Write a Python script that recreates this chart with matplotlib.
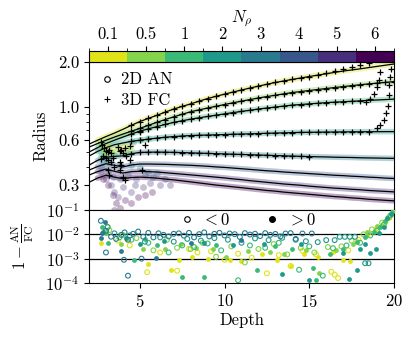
import numpy as np
import matplotlib.pyplot as plt
from matplotlib.colors import ListedColormap, BoundaryNorm
from matplotlib.cm import ScalarMappable
from matplotlib.lines import Line2D
from matplotlib.ticker import FixedLocator, NullFormatter, NullLocator, LogLocator

plt.rcParams['font.family'] = 'serif'
plt.rcParams['font.serif'] = ['cmr10']
plt.rcParams['mathtext.fontset'] = 'cm'
plt.rcParams['axes.formatter.use_mathtext'] = True
plt.rcParams['font.size'] = 12

# N_rho values (colour bar)
nrho = ['0.1', '0.5', '1', '2', '3', '4', '5', '6']

# depth grid of the radius curves
depth = np.arange(2.0, 20.01, 0.5)

# radius curves, one per N_rho
r_01 = [0.565, 0.60, 0.635, 0.67, 0.71, 0.755, 0.80, 0.84, 0.88, 0.925, 0.97, 1.01, 1.05, 1.095, 1.14, 1.18, 1.22, 1.26,
        1.30, 1.34, 1.38, 1.42, 1.46, 1.495, 1.53, 1.565, 1.60, 1.635, 1.67, 1.705, 1.74, 1.77, 1.80, 1.835, 1.87, 1.905, 1.94]
r_05 = [0.54, 0.57, 0.60, 0.63, 0.66, 0.69, 0.72, 0.755, 0.79, 0.825, 0.86, 0.895, 0.93, 0.958, 0.985, 1.012, 1.04, 1.068,
        1.095, 1.122, 1.15, 1.175, 1.20, 1.225, 1.25, 1.27, 1.29, 1.31, 1.33, 1.35, 1.37, 1.39, 1.41, 1.428, 1.445, 1.462, 1.48]
r_1 = [0.50, 0.535, 0.57, 0.60, 0.63, 0.66, 0.69, 0.715, 0.74, 0.765, 0.79, 0.81, 0.83, 0.848, 0.865, 0.882, 0.90, 0.918,
       0.935, 0.952, 0.97, 0.985, 1.00, 1.015, 1.03, 1.04, 1.05, 1.06, 1.07, 1.078, 1.085, 1.092, 1.10, 1.108, 1.115, 1.122, 1.13]
r_2 = [0.47, 0.505, 0.535, 0.56, 0.575, 0.59, 0.60, 0.61, 0.62, 0.628, 0.635, 0.64, 0.645, 0.648, 0.65, 0.652, 0.655, 0.658,
       0.66, 0.662, 0.665, 0.668, 0.67, 0.672, 0.675, 0.677, 0.678, 0.679, 0.68, 0.681, 0.682, 0.683, 0.683, 0.684, 0.684, 0.685, 0.685]
r_3 = [0.409, 0.44, 0.462, 0.468, 0.472, 0.488, 0.497, 0.499, 0.50, 0.499, 0.498, 0.496, 0.494, 0.492, 0.49, 0.488, 0.486, 0.484,
       0.482, 0.48, 0.478, 0.476, 0.474, 0.472, 0.47, 0.468, 0.467, 0.465, 0.464, 0.462, 0.461, 0.46, 0.458, 0.457, 0.456, 0.455, 0.454]
r_4 = [0.379, 0.40, 0.418, 0.408, 0.398, 0.41, 0.416, 0.416, 0.415, 0.414, 0.412, 0.41, 0.408, 0.405, 0.402, 0.398, 0.395, 0.391,
       0.387, 0.383, 0.379, 0.375, 0.372, 0.368, 0.365, 0.362, 0.359, 0.356, 0.353, 0.35, 0.348, 0.345, 0.343, 0.34, 0.338, 0.335, 0.333]
r_5 = [0.351, 0.37, 0.385, 0.372, 0.362, 0.37, 0.372, 0.37, 0.368, 0.364, 0.36, 0.356, 0.352, 0.348, 0.344, 0.34, 0.336, 0.331,
       0.327, 0.322, 0.318, 0.314, 0.31, 0.306, 0.303, 0.3, 0.296, 0.293, 0.29, 0.287, 0.285, 0.282, 0.28, 0.277, 0.275, 0.273, 0.271]
r_6 = [0.314, 0.335, 0.35, 0.34, 0.332, 0.338, 0.34, 0.338, 0.335, 0.33, 0.326, 0.321, 0.316, 0.311, 0.306, 0.301, 0.297, 0.293,
       0.289, 0.285, 0.281, 0.277, 0.274, 0.27, 0.267, 0.264, 0.261, 0.258, 0.255, 0.252, 0.25, 0.247, 0.245, 0.242, 0.24, 0.238, 0.236]
radii = [r_01, r_05, r_1, r_2, r_3, r_4, r_5, r_6]

# depth range where the 3D FC points sit on the curves
fc_start = [4.5, 4.5, 4.5, 4.5, 4.5]
fc_end = [15.5, 20.0, 18.0, 18.5, 15.0]

# 3D FC points leaving the curves near the bottom
fc_up_d = [16.0, 16.5, 17.0, 17.5, 18.0, 18.5,
           18.35, 18.6, 18.8, 19.0, 19.1, 19.2,
           19.0, 19.2, 19.4, 19.55, 19.65, 19.7, 19.72, 19.75, 19.8]
fc_up_r = [1.69, 1.74, 1.79, 1.85, 1.91, 1.98,
           1.085, 1.14, 1.23, 1.37, 1.52, 1.72,
           0.72, 0.76, 0.82, 0.91, 1.02, 1.2, 1.4, 1.6, 1.8]

# 3D FC points scattered near the top
fc_top_d = [2.7, 2.75, 2.9, 3.0, 3.1, 3.2, 3.3, 3.7, 3.8, 3.9, 4.0, 4.1, 4.4, 5.0, 5.3, 2.7, 3.1, 3.3,
            3.8, 3.9, 4.4, 3.1, 3.2, 3.5, 3.8, 4.0, 4.1, 5.1, 2.8, 3.0, 3.4, 4.2]
fc_top_r = [0.58, 0.56, 0.53, 0.51, 0.50, 0.52, 0.49, 0.54, 0.51, 0.52, 0.49, 0.53, 0.55, 0.68, 0.557, 0.45, 0.44, 0.43,
            0.43, 0.41, 0.44, 0.38, 0.35, 0.40, 0.38, 0.34, 0.325, 0.38, 0.47, 0.46, 0.455, 0.47]

# 2D AN points scattered near the top, per N_rho
an_d = [[3.0, 3.2, 3.4, 3.7, 3.9, 4.0, 4.2, 4.4, 3.1, 2.9],
        [2.8, 3.0, 3.3, 3.6, 4.1, 4.5, 2.7],
        [2.7, 2.9, 3.5, 4.3, 5.0, 5.5],
        [2.7, 3.0, 3.3, 4.6],
        [2.8, 3.2, 3.8, 4.5, 5.0, 5.5, 6.0],
        [2.7, 3.1, 3.4, 3.8, 4.3, 4.8, 5.3, 5.8, 6.5],
        [2.7, 3.0, 3.3, 3.5, 3.7, 4.0, 4.5, 4.7, 5.2, 5.6, 6.2, 6.8],
        [2.8, 3.1, 3.4, 3.6, 3.8, 4.1, 4.5, 4.9, 5.3, 5.7, 3.5]]
an_r = [[0.53, 0.51, 0.52, 0.54, 0.52, 0.55, 0.53, 0.55, 0.55, 0.50],
        [0.52, 0.49, 0.50, 0.51, 0.50, 0.52, 0.56],
        [0.50, 0.47, 0.48, 0.49, 0.60, 0.62],
        [0.47, 0.45, 0.46, 0.58],
        [0.43, 0.42, 0.41, 0.41, 0.39, 0.37, 0.36],
        [0.40, 0.37, 0.34, 0.33, 0.35, 0.33, 0.35, 0.34, 0.33],
        [0.37, 0.33, 0.30, 0.27, 0.25, 0.29, 0.27, 0.30, 0.29, 0.31, 0.30, 0.30],
        [0.33, 0.30, 0.26, 0.23, 0.21, 0.24, 0.23, 0.25, 0.26, 0.27, 0.205]]

# 1 - AN/FC, negative (hollow) and positive (filled), per N_rho
neg_d = [[3.08, 3.7, 4.4, 5.43, 6.2, 7.2, 7.9, 8.4, 9.2, 10.0, 10.8, 11.6, 12.5, 13.2, 13.9, 14.6, 15.4, 16.3, 16.5, 16.7,
          17.3, 17.9, 18.5, 19.0, 19.5, 19.9],
         [3.2, 4.0, 4.8, 5.8, 6.6, 7.2, 8.0, 8.7, 9.5, 10.4, 11.2, 12.0, 12.9, 13.7, 14.5, 15.3, 16.1, 16.9, 17.5, 18.2,
          18.7, 19.3, 19.7, 20.0],
         [3.0, 3.8, 4.5, 5.5, 6.7, 7.5, 8.2, 9.0, 9.8, 10.8, 11.5, 12.4, 13.2, 14.4, 15.0, 15.8, 16.4, 17.2, 18.0, 18.6,
          19.0, 19.4, 19.8],
         [3.1, 3.5, 4.4, 5.3, 6.2, 7.0, 7.8, 8.6, 9.4, 10.2, 11.0, 11.8, 12.6, 13.4, 14.2, 14.8, 15.5, 16.0, 16.5, 16.8,
          17.1, 17.4, 17.7, 18.3, 18.5],
         [2.7, 3.0, 3.3, 3.6, 3.9, 4.1, 4.3, 4.6, 4.9, 5.2, 5.5, 5.8, 6.1, 6.4, 6.7, 7.0, 7.3, 7.6, 7.9, 8.2, 8.5, 8.8,
          9.1, 9.4, 9.7, 10.0, 10.3, 10.6, 10.9, 11.2, 11.5, 11.8, 12.1, 12.4, 12.7, 13.0, 13.3, 13.6, 13.9, 14.2,
          14.6, 15.15, 4.3, 3.0, 5.1, 4.06]]
neg_v = [[0.02, 0.0055, 0.0035, 0.00028, 0.0018, 0.00032, 0.0025, 0.0018, 0.002, 0.0009, 0.0016, 0.0011, 0.00025,
          0.0014, 0.0005, 0.0021, 0.0015, 0.00029, 0.00022, 0.00016, 0.0022, 0.006, 0.011, 0.018, 0.032, 0.07],
         [0.015, 0.0095, 0.007, 0.0022, 0.006, 0.0028, 0.0025, 0.0045, 0.0012, 0.0032, 0.0007, 0.0025, 0.004, 0.0015,
          0.0028, 0.0018, 0.003, 0.0032, 0.0055, 0.01, 0.016, 0.03, 0.05, 0.09],
         [0.012, 0.0075, 0.006, 0.0045, 0.0018, 0.0035, 0.003, 0.0042, 0.0022, 0.00013, 0.0035, 0.0028, 0.0045, 0.00035,
          0.0032, 0.0002, 0.0027, 0.0035, 0.0045, 0.009, 0.014, 0.025, 0.06],
         [0.02, 0.011, 0.009, 0.005, 0.0075, 0.005, 0.0065, 0.0055, 0.007, 0.006, 0.0045, 0.0068, 0.0058, 0.0072, 0.006,
          0.0052, 0.0048, 0.0058, 0.0058, 0.0079, 0.0079, 0.0079, 0.0079, 0.00065, 0.00065],
         [0.036, 0.014, 0.008, 0.0065, 0.0095, 0.012, 0.006, 0.0105, 0.013, 0.008, 0.0115, 0.0075, 0.011, 0.0095, 0.0082,
          0.0105, 0.011, 0.0088, 0.0115, 0.0075, 0.0102, 0.012, 0.0082, 0.0105, 0.0115, 0.009, 0.0108, 0.0102, 0.0078,
          0.0112, 0.0098, 0.0106, 0.0085, 0.0112, 0.0095, 0.0104, 0.0082, 0.0108, 0.0112, 0.0065, 0.0108, 0.0108,
          0.0002, 0.0018, 0.001, 0.0009]]
pos_d = [[2.72, 4.2, 5.47, 6.85, 7.33, 8.1, 9.0, 10.3, 11.0, 12.2, 13.1, 13.9, 14.7, 15.5, 16.4, 17.0, 17.4, 17.8, 18.4,
          18.9, 19.3, 19.7, 20.0],
         [3.0, 3.9, 5.2, 6.5, 7.4, 8.3, 9.3, 10.1, 11.4, 12.7, 13.5, 14.8, 15.6, 16.6, 17.6, 18.4, 19.0, 19.6],
         [2.76, 3.1, 4.65, 5.3, 6.0, 7.47, 8.8, 9.5, 11.9, 13.0, 14.0, 15.2, 15.4, 16.2, 17.0, 17.8, 18.3, 18.8, 19.2,
          19.5, 19.9],
         [2.8, 4.2, 5.0, 6.4, 8.8, 10.5, 12.3, 13.4, 14.5, 17.0, 17.35, 17.8, 18.0, 18.3, 18.6, 18.96, 19.1, 19.4, 19.6,
          19.8, 15.0],
         [2.95, 2.75, 3.9, 5.96, 2.7, 8.0, 11.0]]
pos_v = [[0.0043, 0.0065, 0.00058, 0.00034, 0.0009, 0.0012, 0.00095, 0.0009, 0.0008, 0.0016, 0.0009, 0.00048, 0.0015,
          0.0012, 0.0018, 0.00088, 0.0008, 0.0055, 0.009, 0.015, 0.025, 0.045, 0.1],
         [0.011, 0.004, 0.0025, 0.0025, 0.004, 0.0028, 0.0026, 0.0012, 0.0021, 0.0018, 0.0016, 0.0022, 0.00025, 0.0022,
          0.004, 0.012, 0.022, 0.045],
         [0.02, 0.0043, 0.0009, 0.0065, 0.0037, 0.00017, 0.00017, 0.0035, 0.00034, 0.0032, 0.0025, 0.0004, 0.00013,
          0.0015, 0.0025, 0.005, 0.008, 0.012, 0.02, 0.035, 0.085],
         [0.012, 0.0072, 0.004, 0.0055, 0.0045, 0.0038, 0.0042, 0.00023, 0.004, 0.0017, 0.00014, 0.00034, 0.0025,
          0.0042, 0.0017, 0.0024, 0.011, 0.02, 0.045, 0.07, 0.00013],
         [0.031, 0.011, 0.002, 0.0011, 0.007, 0.0045, 0.006]]

cols = plt.cm.viridis(np.linspace(0.95, 0.0, 8))

fig = plt.figure(figsize=(4.16, 3.44), dpi=100)
ax1 = fig.add_axes([0.214, 0.3895, 0.733, 0.4302])
ax2 = fig.add_axes([0.214, 0.1773, 0.733, 0.2122], sharex=ax1)
cax = fig.add_axes([0.214, 0.8198, 0.733, 0.032])

# top panel: radius
for k, r in enumerate(radii):
    ax1.plot(depth[1:], r[1:], color=cols[k], lw=4, alpha=0.35, solid_capstyle='round', zorder=1)
    ax1.scatter(an_d[k], an_r[k], s=24, color=cols[k], alpha=0.3, lw=0, zorder=2)
    ax1.plot(depth, r, color='k', lw=0.9, zorder=3)

for k in range(5):
    m = (depth >= fc_start[k]) & (depth <= fc_end[k])
    ax1.plot(depth[m], np.array(radii[k])[m], '+', color='k', ms=4.5, mew=0.9, zorder=4)
ax1.plot(fc_up_d, fc_up_r, '+', color='k', ms=4.5, mew=0.9, zorder=4)
ax1.plot(fc_top_d, fc_top_r, '+', color='k', ms=4.5, mew=0.9, zorder=4)

ax1.set_yscale('log')
ax1.set_ylim(0.205, 2.0)
ax1.set_xlim(2, 20)
ax1.yaxis.set_major_locator(FixedLocator([0.3, 0.6, 1.0, 2.0]))
ax1.set_yticklabels(['0.3', '0.6', '1.0', '2.0'])
ax1.yaxis.set_minor_locator(LogLocator(subs=np.arange(2, 10)))
ax1.yaxis.set_minor_formatter(NullFormatter())
ax1.tick_params(axis='x', which='both', bottom=False, labelbottom=False)
ax1.set_ylabel('Radius', labelpad=7)

leg1 = [Line2D([], [], ls='none', marker='o', mfc='none', mec='k', ms=4, mew=0.8),
        Line2D([], [], ls='none', marker='+', color='k', ms=4, mew=0.8)]
ax1.legend(leg1, ['2D AN', '3D FC'], loc='upper left', frameon=False, handlelength=0.9,
           handletextpad=0.4, borderaxespad=0.3, borderpad=0.3, labelspacing=0.3)

# bottom panel: relative difference
for k in range(5):
    ax2.scatter(neg_d[k], neg_v[k], s=12, facecolors='none', edgecolors=cols[k], lw=0.8, zorder=3)
    ax2.scatter(pos_d[k], pos_v[k], s=12, color=cols[k], lw=0, zorder=3)
ax2.axhline(1e-2, color='k', lw=0.9, zorder=1)
ax2.axhline(1e-3, color='k', lw=0.9, zorder=1)
ax2.set_yscale('log')
ax2.set_ylim(1e-4, 1e-1)
ax2.set_yticks([1e-4, 1e-3, 1e-2, 1e-1])
ax2.yaxis.set_minor_locator(NullLocator())
ax2.set_xticks([5, 10, 15, 20])
ax2.set_xlim(2, 20)
ax2.set_xlabel('Depth', labelpad=2)
ax2.set_ylabel(r'$1-\frac{\rm AN}{\rm FC}$', labelpad=7)

leg2 = [Line2D([], [], ls='none', marker='o', mfc='none', mec='k', ms=4, mew=0.8),
        Line2D([], [], ls='none', marker='o', color='k', ms=4)]
ax2.legend(leg2, [r'$<0$', r'$>0$'], loc='upper center', bbox_to_anchor=(0.52, 1.0), ncol=2,
           frameon=False, handlelength=0.9, handletextpad=0.5, columnspacing=2.0,
           borderaxespad=0, borderpad=0.1)

# colour bar
cmap = ListedColormap(cols)
norm = BoundaryNorm(np.arange(9), 8)
cb = fig.colorbar(ScalarMappable(norm=norm, cmap=cmap), cax=cax, orientation='horizontal')
cb.set_ticks(np.arange(8) + 0.5)
cb.set_ticklabels(nrho)
cax.xaxis.set_ticks_position('top')
cax.tick_params(pad=3)
fig.text(0.582, 0.945, r'$N_\rho$', ha='center', va='center')

fig.savefig('out.png', dpi=100)
